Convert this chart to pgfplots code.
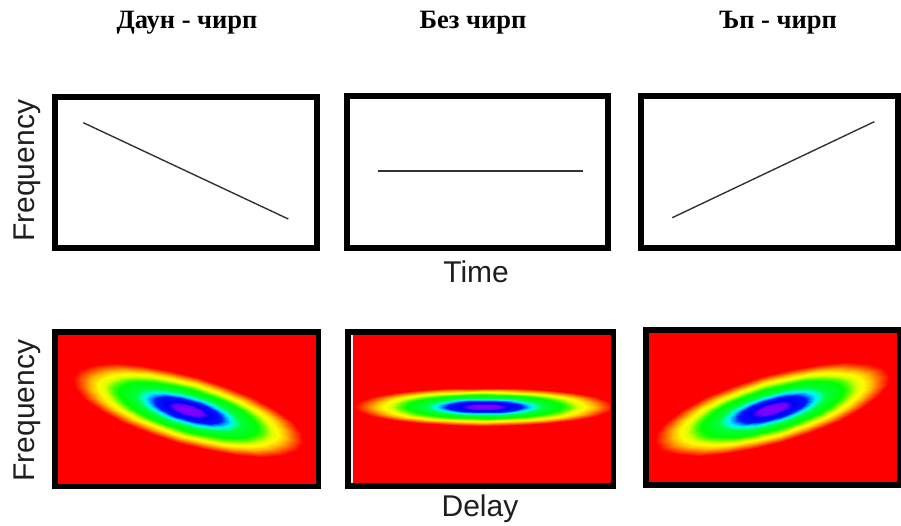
\documentclass[border=0pt]{standalone}
\usepackage{fontspec}
\setmainfont{Liberation Sans}
\newfontfamily\serifcyr{Liberation Serif}
\usepackage{pgfplots}
\pgfplotsset{compat=1.18}
\usepackage{pgfplotstable}

% elliptical rings (unit-circle frame), r = 0, 0.25, 0.5, 0.75, 1, 7 ; m = colour level
\pgfplotstableread{
x y m
0 0 0
0 0 0
0 0 0
0 0 0
0 0 0
0 0 0
0 0 0
0 0 0
0 0 0
0 0 0
0 0 0
0 0 0
0 0 0
0 0 0
0 0 0
0 0 0
0 0 0
0 0 0
0 0 0
0 0 0
0 0 0
0 0 0
0 0 0
0 0 0
0 0 0
0.25 0 0.25
0.2415 0.0647 0.25
0.2165 0.125 0.25
0.1768 0.1768 0.25
0.125 0.2165 0.25
0.0647 0.2415 0.25
0 0.25 0.25
-0.0647 0.2415 0.25
-0.125 0.2165 0.25
-0.1768 0.1768 0.25
-0.2165 0.125 0.25
-0.2415 0.0647 0.25
-0.25 0 0.25
-0.2415 -0.0647 0.25
-0.2165 -0.125 0.25
-0.1768 -0.1768 0.25
-0.125 -0.2165 0.25
-0.0647 -0.2415 0.25
0 -0.25 0.25
0.0647 -0.2415 0.25
0.125 -0.2165 0.25
0.1768 -0.1768 0.25
0.2165 -0.125 0.25
0.2415 -0.0647 0.25
0.25 0 0.25
0.5 0 0.5
0.4830 0.1294 0.5
0.4330 0.25 0.5
0.3536 0.3536 0.5
0.25 0.4330 0.5
0.1294 0.4830 0.5
0 0.5 0.5
-0.1294 0.4830 0.5
-0.25 0.4330 0.5
-0.3536 0.3536 0.5
-0.4330 0.25 0.5
-0.4830 0.1294 0.5
-0.5 0 0.5
-0.4830 -0.1294 0.5
-0.4330 -0.25 0.5
-0.3536 -0.3536 0.5
-0.25 -0.4330 0.5
-0.1294 -0.4830 0.5
0 -0.5 0.5
0.1294 -0.4830 0.5
0.25 -0.4330 0.5
0.3536 -0.3536 0.5
0.4330 -0.25 0.5
0.4830 -0.1294 0.5
0.5 0 0.5
0.75 0 0.75
0.7244 0.1941 0.75
0.6495 0.375 0.75
0.5303 0.5303 0.75
0.375 0.6495 0.75
0.1941 0.7244 0.75
0 0.75 0.75
-0.1941 0.7244 0.75
-0.375 0.6495 0.75
-0.5303 0.5303 0.75
-0.6495 0.375 0.75
-0.7244 0.1941 0.75
-0.75 0 0.75
-0.7244 -0.1941 0.75
-0.6495 -0.375 0.75
-0.5303 -0.5303 0.75
-0.375 -0.6495 0.75
-0.1941 -0.7244 0.75
0 -0.75 0.75
0.1941 -0.7244 0.75
0.375 -0.6495 0.75
0.5303 -0.5303 0.75
0.6495 -0.375 0.75
0.7244 -0.1941 0.75
0.75 0 0.75
1 0 1
0.9659 0.2588 1
0.8660 0.5 1
0.7071 0.7071 1
0.5 0.8660 1
0.2588 0.9659 1
0 1 1
-0.2588 0.9659 1
-0.5 0.8660 1
-0.7071 0.7071 1
-0.8660 0.5 1
-0.9659 0.2588 1
-1 0 1
-0.9659 -0.2588 1
-0.8660 -0.5 1
-0.7071 -0.7071 1
-0.5 -0.8660 1
-0.2588 -0.9659 1
0 -1 1
0.2588 -0.9659 1
0.5 -0.8660 1
0.7071 -0.7071 1
0.8660 -0.5 1
0.9659 -0.2588 1
1 0 1
7 0 1
6.761 1.812 1
6.062 3.5 1
4.950 4.950 1
3.5 6.062 1
1.812 6.761 1
0 7 1
-1.812 6.761 1
-3.5 6.062 1
-4.950 4.950 1
-6.062 3.5 1
-6.761 1.812 1
-7 0 1
-6.761 -1.812 1
-6.062 -3.5 1
-4.950 -4.950 1
-3.5 -6.062 1
-1.812 -6.761 1
0 -7 1
1.812 -6.761 1
3.5 -6.062 1
4.950 -4.950 1
6.062 -3.5 1
6.761 -1.812 1
7 0 1
}\rings

\definecolor{linegray}{HTML}{333333}
\definecolor{labgray}{HTML}{1E1E1E}

\tikzset{
  lab/.style={font=\fontsize{30}{36}\selectfont, text=labgray},
  ttl/.style={font=\serifcyr\bfseries\fontsize{26.5}{30}\selectfont, text=black},
}

\pgfplotsset{
  colormap={chirp}{
    rgb255(0pt)=(140,0,255)
    rgb255(12pt)=(115,0,255)
    rgb255(16pt)=(40,0,240)
    rgb255(18pt)=(0,0,245)
    rgb255(29pt)=(0,20,255)
    rgb255(33pt)=(0,150,255)
    rgb255(37pt)=(0,240,255)
    rgb255(41pt)=(0,255,170)
    rgb255(45pt)=(0,255,60)
    rgb255(60pt)=(0,255,0)
    rgb255(66pt)=(90,255,0)
    rgb255(72pt)=(220,255,0)
    rgb255(78pt)=(255,250,0)
    rgb255(85pt)=(255,185,0)
    rgb255(92pt)=(255,95,0)
    rgb255(100pt)=(255,0,0)
  },
  panel/.style={scale only axis, anchor=south west, xtick=\empty, ytick=\empty,
    axis line style={line width=6pt, black}},
  heat/.style={hide axis, clip=false, anchor=center,
    xmin=-7, xmax=7, ymin=-7, ymax=7,
    colormap name=chirp, point meta min=0, point meta max=1},
  heatplot/.style={surf, shader=interp, mesh/cols=25, mesh/rows=6, point meta=explicit},
}

\begin{document}
\begin{tikzpicture}
% ---------------- top row ----------------
\begin{axis}[panel, name=tl, at={(54.8pt,277.2pt)}, width=262pt, height=150.6pt,
  xmin=54.8, xmax=316.8, ymin=-247.8, ymax=-97.2,
  title={Даун - чирп}, title style={ttl, at={(axis description cs:0.5046,1.413)}, anchor=base},
  ylabel={Frequency}, ylabel style={lab, at={(axis description cs:-0.0756,0.511)}, anchor=base}]
\addplot[linegray, line width=1.4pt] coordinates {(83.3,-122.7) (288.3,-219)};
\end{axis}

\begin{axis}[panel, name=tm, at={(346.5pt,277.3pt)}, width=261.2pt, height=151.4pt,
  xmin=346.5, xmax=607.7, ymin=-247.7, ymax=-96.3,
  title={Без чирп}, title style={ttl, at={(axis description cs:0.4843,1.405)}, anchor=base},
  xlabel={Time}, xlabel style={lab, at={(axis description cs:0.496,-0.233)}, anchor=base}]
\addplot[linegray, line width=1.4pt] coordinates {(378.3,-171) (583.3,-171)};
\end{axis}

\begin{axis}[panel, name=tr, at={(641.3pt,277.3pt)}, width=256.7pt, height=151.4pt,
  xmin=641.3, xmax=898, ymin=-247.7, ymax=-96.3,
  title={Ъп - чирп}, title style={ttl, at={(axis description cs:0.5325,1.405)}, anchor=base}]
\addplot[linegray, line width=1.4pt] coordinates {(672.3,-217.7) (874.3,-121.7)};
\end{axis}

% ---------------- bottom row ----------------
\begin{axis}[panel, name=bl, at={(55pt,39pt)}, width=263.3pt, height=154pt,
  xmin=0, xmax=1, ymin=0, ymax=1, axis background/.style={fill=red},
  ylabel={Frequency}, ylabel style={lab, at={(axis description cs:-0.076,0.49)}, anchor=base}]
\end{axis}
\begin{scope}
\clip ([shift={(3pt,3pt)}]bl.south west) rectangle ([shift={(-3pt,-3pt)}]bl.north east);
\begin{axis}[heat, at={(188pt,115pt)}, x={(115.4pt,-33.1pt)}, y={(9.4pt,32.7pt)}]
\addplot[heatplot] table[x=x, y=y, meta=m] {\rings};
\end{axis}
\end{scope}

\begin{axis}[panel, name=bm, at={(348pt,39.5pt)}, width=265pt, height=153.5pt,
  xmin=0, xmax=1, ymin=0, ymax=1, axis background/.style={fill=red},
  xlabel={Delay}, xlabel style={lab, at={(axis description cs:0.498,-0.205)}, anchor=base}]
\end{axis}
\begin{scope}
\clip ([shift={(3pt,3pt)}]bm.south west) rectangle ([shift={(-3pt,-3pt)}]bm.north east);
\begin{axis}[heat, at={(484pt,118.5pt)}, x={(130pt,0pt)}, y={(0pt,19pt)}]
\addplot[heatplot] table[x=x, y=y, meta=m] {\rings};
\addplot[white!90!gray, line width=2pt] coordinates {(-1.0154,-7) (-1.0154,7)};
\end{axis}
\end{scope}

\begin{axis}[panel, name=br, at={(646pt,40.5pt)}, width=253pt, height=154.2pt,
  xmin=0, xmax=1, ymin=0, ymax=1, axis background/.style={fill=red}]
\end{axis}
\begin{scope}
\clip ([shift={(3pt,3pt)}]br.south west) rectangle ([shift={(-3pt,-3pt)}]br.north east);
\begin{axis}[heat, at={(772pt,116pt)}, x={(117.3pt,33.6pt)}, y={(-9.4pt,32.7pt)}]
\addplot[heatplot] table[x=x, y=y, meta=m] {\rings};
\end{axis}
\end{scope}

\pgfresetboundingbox
\useasboundingbox (0,0) rectangle (901pt,525pt);
\end{tikzpicture}
\end{document}
